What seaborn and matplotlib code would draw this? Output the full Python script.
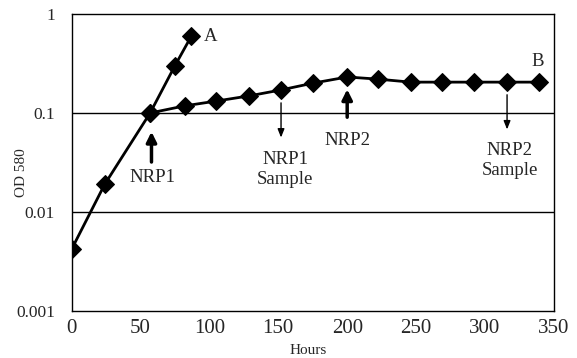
import pandas as pd
import matplotlib
matplotlib.use('Agg')
import matplotlib.pyplot as plt
import seaborn as sns

# growth curve A (aerated) and B (NRP shift-down)
hours_a = [0, 24, 57, 75, 87]
od_a = [0.0042, 0.019, 0.1, 0.3, 0.6]

hours_b = [57, 82, 105, 129, 152, 175, 200, 222, 246, 269, 292, 316, 339]
od_b = [0.1, 0.118, 0.132, 0.149, 0.171, 0.2, 0.231, 0.22, 0.205, 0.205, 0.205, 0.205, 0.205]

y_ticks = [0.001, 0.01, 0.1, 1]
y_tick_labels = ['0.001', '0.01', '0.1', '1']
x_ticks = [0, 50, 100, 150, 200, 250, 300, 350]

sns.set_style('white')
plt.rcParams['font.family'] = ['Liberation Serif', 'DejaVu Serif']

df = pd.concat([
    pd.DataFrame({'Hours': hours_a, 'OD': od_a, 'curve': 'A'}),
    pd.DataFrame({'Hours': hours_b, 'OD': od_b, 'curve': 'B'}),
])

fig = plt.figure(figsize=(5.77, 3.58), dpi=100)
ax = fig.add_axes([0.124, 0.131, 0.836, 0.830])

sns.lineplot(data=df, x='Hours', y='OD', units='curve', estimator=None,
             color='black', linewidth=2, marker='D', markersize=9,
             markeredgecolor='black', ax=ax, sort=False)

ax.set_yscale('log')
ax.set_ylim(0.001, 1)
ax.set_xlim(0, 350)
ax.set_yticks(y_ticks)
ax.set_yticklabels(y_tick_labels, fontsize=12.5)
ax.minorticks_off()
ax.set_xticks(x_ticks)
ax.set_xticklabels([str(t) for t in x_ticks], fontsize=15)
ax.tick_params(length=0)
ax.tick_params(axis='y', pad=12)
ax.tick_params(axis='x', pad=6)
for t in [0.01, 0.1]:
    ax.axhline(t, color='black', linewidth=1, zorder=0)
for s in ax.spines.values():
    s.set_color('black')
    s.set_linewidth(1)

ax.set_xlabel('Hours', fontsize=11)
ax.xaxis.set_label_coords(0.49, -0.111)
ax.set_ylabel('OD 580', fontsize=11)
ax.yaxis.set_label_coords(-0.09, 0.465)

txt = dict(fontsize=13.5, ha='center', va='top', linespacing=1.2)
ax.text(96, 0.59, 'A', fontsize=13.5, va='center', ha='left')
ax.text(338, 0.33, 'B', fontsize=13.5, va='center', ha='center')

thick = dict(arrowstyle='-|>,head_width=0.3,head_length=0.6', color='black', lw=2.5)
thin = dict(arrowstyle='-|>,head_width=0.2,head_length=0.5', color='black', lw=1)

ax.annotate('', xy=(58, 0.069), xytext=(58, 0.03), arrowprops=thick)
ax.text(59, 0.027, 'NRP1', **txt)

ax.annotate('', xy=(152, 0.053), xytext=(152, 0.135), arrowprops=thin)
ax.text(155, 0.041, 'NRP1\nSample', **txt)

ax.annotate('', xy=(200, 0.185), xytext=(200, 0.085), arrowprops=thick)
ax.text(200, 0.065, 'NRP2', **txt)

ax.annotate('', xy=(316, 0.064), xytext=(316, 0.163), arrowprops=thin)
ax.text(318, 0.051, 'NRP2\nSample', **txt)

plt.savefig('out.png', dpi=100)
